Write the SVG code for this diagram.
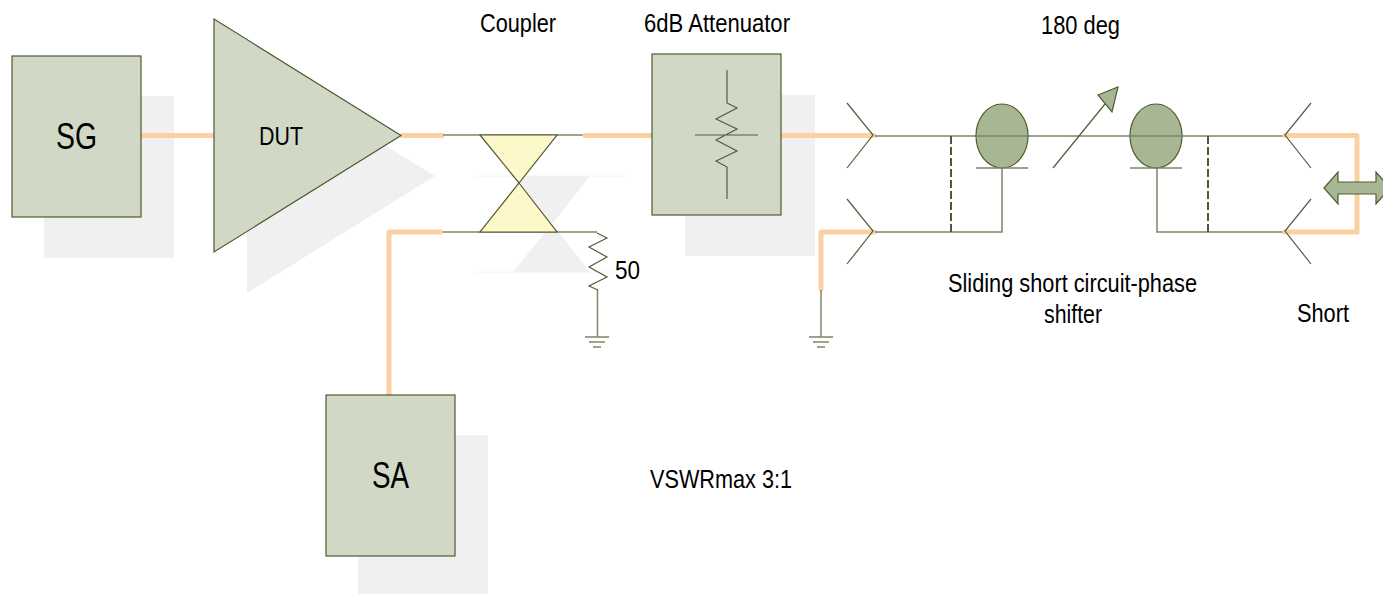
<svg xmlns="http://www.w3.org/2000/svg" width="1383" height="594" viewBox="0 0 1383 594">
<style>
text{font-family:"Liberation Sans",Arial,sans-serif;fill:#000;font-size:26px}
.l{font-size:37px}
.s{fill:#f0f0f0;stroke:none}
.b{fill:#d1d9c6;stroke:#4f5a30;stroke-width:1.2}
.o{fill:none;stroke:#fbd0a2;stroke-width:5;stroke-linejoin:round;stroke-linecap:round}
.w{fill:none;stroke:#7e8465;stroke-width:1.5}
.d{fill:none;stroke:#555c3a;stroke-width:1.2}
.h{fill:none;stroke:#4f5a30;stroke-width:2;stroke-dasharray:8 3}
.g{fill:#a8b793;stroke:#4f5a30;stroke-width:1.2}
.y{fill:#fdf8c9;stroke:#4f5a30;stroke-width:1.2}
</style>
<g id="shadows">
<rect class="s" x="44" y="96" width="130" height="162"/>
<polygon class="s" points="247,60 435,176 247,293"/>
<rect class="s" x="358" y="435" width="130" height="159"/>
<rect class="s" x="685" y="95" width="130" height="161"/>
<polygon class="s" points="513,176 590,176 552,224 590,272 513,272 552,224"/>
<path d="M474 176H629M474 272H618" stroke="#f4f4f4" stroke-width="1" fill="none"/>
</g>
<g id="connectors">
<path class="o" d="M141 135.5H214"/>
<path class="o" d="M402 135.5H442"/>
<path class="w" d="M443 135H584"/>
<path class="o" d="M585 135.5H652"/>
<path class="o" d="M781 135.5H874"/>
<path class="o" d="M441 232H389V395"/>
<path class="w" d="M443 232H597"/>
<path class="o" d="M874 232H821V289"/>
<path class="w" d="M821 290V337"/>
<path class="w" d="M597.500 290V337"/>
<path class="w" d="M875 136H1285"/>
<path class="w" d="M875 232H1002V168"/>
<path class="w" d="M1157 168V232H1285"/>
<path class="o" d="M1285 135.500H1357V232H1285"/>
<path class="h" d="M951 136V232M1208 136V232"/>
<path class="d" d="M847 103L873 135L847 168M847 199L873 231L847 264"/>
<path class="d" d="M1311 103L1285 135L1311 168M1311 199L1285 231L1311 264"/>
<path class="d" d="M597 233L607 238L589 247L607 257L589 267L607 277L589 286L598 290"/>
<path class="w" d="M585 337H609M589 342H605M593 347H601"/>
<path class="w" d="M809 337H833M813 342H829M817 347H825"/>
</g>
<g id="sg"><rect class="b" x="12" y="56" width="129" height="161"/><text class="l" x="56" y="148.500" textLength="41" lengthAdjust="spacingAndGlyphs">SG</text></g>
<g id="dut"><polygon class="b" points="214,19 401,135.500 214,252"/><text x="259" y="145" textLength="44" lengthAdjust="spacingAndGlyphs">DUT</text></g>
<g id="sa"><rect class="b" x="326" y="395" width="129" height="161"/><text class="l" x="372" y="488" textLength="37" lengthAdjust="spacingAndGlyphs">SA</text></g>
<g id="coupler"><polygon class="y" points="480,135 557,135 519,183"/><polygon class="y" points="519,183 557,232 480,232"/><text x="480" y="32" textLength="76" lengthAdjust="spacingAndGlyphs">Coupler</text></g>
<g id="attenuator"><rect class="b" x="652" y="54" width="129" height="161"/>
<path class="d" d="M727 70V103L737 108L716 119L737 129L716 140L737 151L716 161L727 167V199M695 135H758"/>
<text x="644" y="32" textLength="146" lengthAdjust="spacingAndGlyphs">6dB Attenuator</text></g>
<g id="r50"><text x="615" y="279" textLength="25" lengthAdjust="spacingAndGlyphs">50</text></g>
<g id="phase">
<ellipse class="g" cx="1002" cy="136" rx="26" ry="32"/><ellipse class="g" cx="1156" cy="136" rx="26" ry="32"/>
<path class="w" d="M976 136H1028M1130 136H1182"/>
<path class="w" d="M976 168H1028M1130 168H1182"/>
<path class="d" d="M1053 168L1105 104"/><polygon class="g" points="1098,95 1118,87 1112,112"/>
<text x="1041" y="34" textLength="79" lengthAdjust="spacingAndGlyphs">180 deg</text>
<text x="948" y="292" textLength="249" lengthAdjust="spacingAndGlyphs">Sliding short circuit-phase</text>
<text x="1044" y="323" textLength="58" lengthAdjust="spacingAndGlyphs">shifter</text>
</g>
<g id="short"><polygon class="g" points="1324,188 1338,172 1338,182 1376,182 1376,172 1390,188 1376,204 1376,194 1338,194 1338,204"/><text x="1297" y="322" textLength="52" lengthAdjust="spacingAndGlyphs">Short</text></g>
<g id="vswr"><text x="650" y="488" textLength="142" lengthAdjust="spacingAndGlyphs">VSWRmax 3:1</text></g>
</svg>
